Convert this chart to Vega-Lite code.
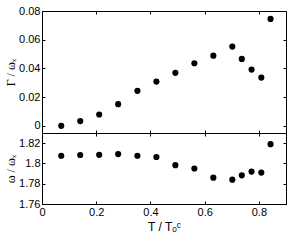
{
  "$schema": "https://vega.github.io/schema/vega-lite/v6.json",
  "autosize": {"type": "pad"},
  "padding": {"left": 4, "top": 4, "right": 0, "bottom": 0},
  "spacing": 0,
  "bounds": "flush",
  "config": {
    "font": "Liberation Sans",
    "view": {"stroke": "black", "strokeWidth": 1},
    "axis": {
      "grid": false,
      "domainColor": "black",
      "tickColor": "black",
      "tickSize": -3,
      "labelColor": "black",
      "labelFont": "Liberation Sans",
      "labelFontSize": 11,
      "labelPadding": 5,
      "titleColor": "black",
      "titleFontWeight": "normal",
      "titleFontSize": 11,
      "labelFlush": false,
      "labelOverlap": false
    }
  },
  "datasets": {
    "d": [
      {"T": 0.071, "G": 0.0000, "W": 1.8076},
      {"T": 0.141, "G": 0.0033, "W": 1.8083},
      {"T": 0.211, "G": 0.0079, "W": 1.8085},
      {"T": 0.281, "G": 0.0151, "W": 1.8092},
      {"T": 0.352, "G": 0.0244, "W": 1.8076},
      {"T": 0.422, "G": 0.0308, "W": 1.8063},
      {"T": 0.492, "G": 0.0369, "W": 1.7983},
      {"T": 0.562, "G": 0.0436, "W": 1.7950},
      {"T": 0.632, "G": 0.0489, "W": 1.7860},
      {"T": 0.702, "G": 0.0552, "W": 1.7840},
      {"T": 0.737, "G": 0.0466, "W": 1.7883},
      {"T": 0.773, "G": 0.0392, "W": 1.7920},
      {"T": 0.809, "G": 0.0336, "W": 1.7910},
      {"T": 0.843, "G": 0.0745, "W": 1.8190}
    ]
  },
  "vconcat": [
    {
      "width": 244,
      "height": 122,
      "data": {"name": "d"},
      "layer": [
        {
          "mark": {"type": "point", "filled": true, "size": 38, "color": "black", "opacity": 1},
          "encoding": {
            "x": {"field": "T", "type": "quantitative", "scale": {"domain": [0, 0.9], "nice": false, "zero": false},
                  "axis": {"orient": "bottom", "labels": false, "title": null, "values": [0, 0.2, 0.4, 0.6, 0.8]}},
            "y": {"field": "G", "type": "quantitative", "scale": {"domain": [-0.005, 0.08], "nice": false, "zero": false},
                  "axis": {"orient": "left", "title": "Γ / ωₓ", "titleFont": "Liberation Serif", "titleFontSize": 12, "titlePadding": 1, "values": [0, 0.02, 0.04, 0.06, 0.08], "format": "~g"}}
          }
        },
        {
          "mark": {"type": "point", "opacity": 0},
          "encoding": {
            "x": {"field": "T", "type": "quantitative", "scale": {"domain": [0, 0.9], "nice": false, "zero": false},
                  "axis": {"orient": "top", "labels": false, "title": null, "domain": false, "values": [0, 0.2, 0.4, 0.6, 0.8]}},
            "y": {"field": "G", "type": "quantitative", "scale": {"domain": [-0.005, 0.08], "nice": false, "zero": false},
                  "axis": {"orient": "right", "labels": false, "title": null, "domain": false, "values": [0, 0.02, 0.04, 0.06, 0.08]}}
          }
        }
      ],
      "resolve": {"axis": {"x": "independent", "y": "independent"}}
    },
    {
      "width": 244,
      "height": 71,
      "data": {"name": "d"},
      "layer": [
        {
          "mark": {"type": "point", "filled": true, "size": 38, "color": "black", "opacity": 1},
          "encoding": {
            "x": {"field": "T", "type": "quantitative", "scale": {"domain": [0, 0.9], "nice": false, "zero": false},
                  "axis": {"orient": "bottom", "title": "T / Tₒᶜ", "titleFontSize": 12, "values": [0, 0.2, 0.4, 0.6, 0.8], "format": "~g", "titlePadding": 4}},
            "y": {"field": "W", "type": "quantitative", "scale": {"domain": [1.76, 1.83], "nice": false, "zero": false},
                  "axis": {"orient": "left", "title": "ω / ωₓ", "titleFont": "Liberation Serif", "titleFontSize": 12, "titlePadding": 1, "values": [1.76, 1.78, 1.8, 1.82], "format": "~g"}}
          }
        },
        {
          "mark": {"type": "point", "opacity": 0},
          "encoding": {
            "x": {"field": "T", "type": "quantitative", "scale": {"domain": [0, 0.9], "nice": false, "zero": false},
                  "axis": {"orient": "top", "labels": false, "title": null, "domain": false, "values": [0, 0.2, 0.4, 0.6, 0.8]}},
            "y": {"field": "W", "type": "quantitative", "scale": {"domain": [1.76, 1.83], "nice": false, "zero": false},
                  "axis": {"orient": "right", "labels": false, "title": null, "domain": false, "values": [1.76, 1.78, 1.8, 1.82]}}
          }
        }
      ],
      "resolve": {"axis": {"x": "independent", "y": "independent"}}
    }
  ]
}
